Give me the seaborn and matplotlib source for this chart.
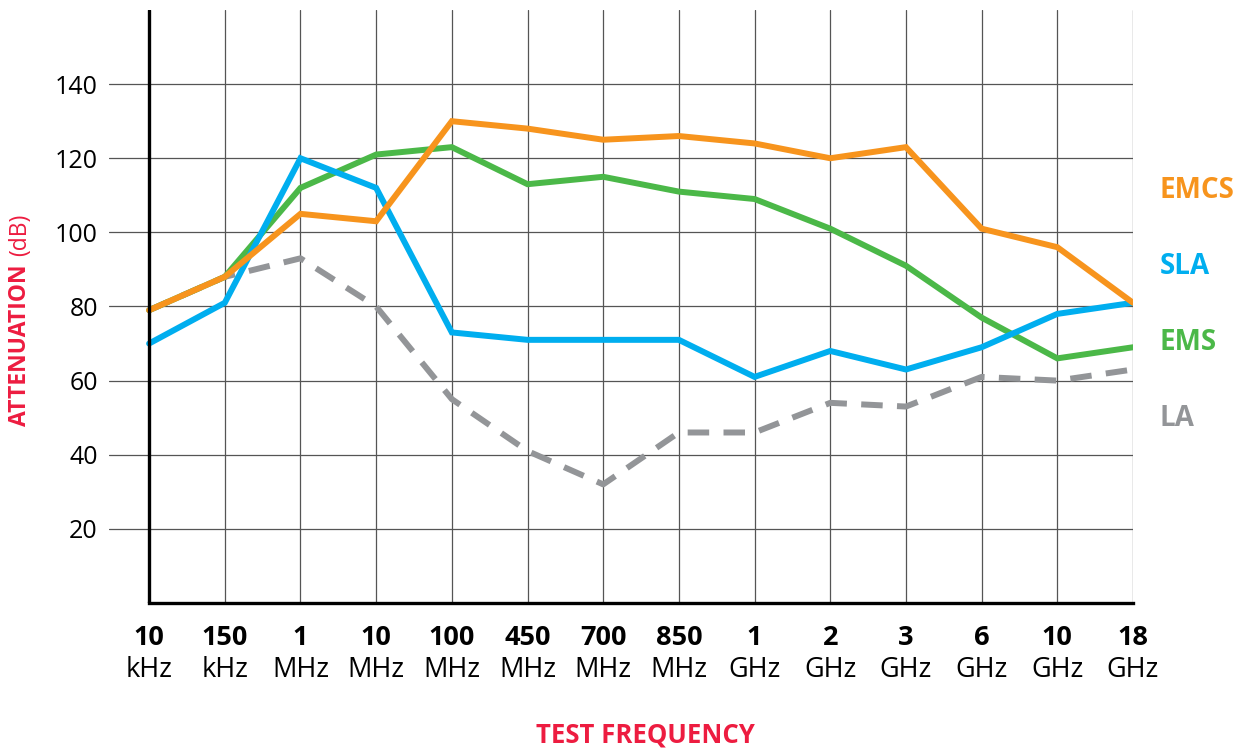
import pandas as pd
import seaborn as sns
import matplotlib.pyplot as plt
import matplotlib.transforms as mtransforms

# Chart data
freq_num = ["10", "150", "1", "10", "100", "450", "700", "850", "1", "2", "3", "6", "10", "18"]
freq_unit = ["kHz", "kHz", "MHz", "MHz", "MHz", "MHz", "MHz", "MHz", "GHz", "GHz", "GHz", "GHz", "GHz", "GHz"]

emcs = [79, 88, 105, 103, 130, 128, 125, 126, 124, 120, 123, 101, 96, 81]
sla = [70, 81, 120, 112, 73, 71, 71, 71, 61, 68, 63, 69, 78, 81]
ems = [79, 88, 112, 121, 123, 113, 115, 111, 109, 101, 91, 77, 66, 69]
la = [79, 88, 93, 80, 55, 41, 32, 46, 46, 54, 53, 61, 60, 63]

series = {"LA": la, "EMS": ems, "SLA": sla, "EMCS": emcs}
colors = {"EMCS": "#F7941D", "SLA": "#00AEEF", "EMS": "#4BB848", "LA": "#939598"}
red = "#ED1C40"

sns.set_style("white")
plt.rcParams['font.family'] = ['Open Sans', 'DejaVu Sans']
plt.rcParams['text.color'] = 'black'
plt.rcParams['xtick.color'] = 'black'
plt.rcParams['ytick.color'] = 'black'

fig = plt.figure(figsize=(12.54, 7.48), dpi=100)
ax = fig.add_axes([0.0869, 0.1939, 0.9035 - 0.0869, 0.9866 - 0.1939])

# grid
for y in range(20, 160, 20):
    ax.axhline(y, color="#555555", lw=0.9, zorder=1)
for i in range(len(freq_num)):
    ax.axvline(i, color="#555555", lw=0.9, zorder=1)

for name, vals in series.items():
    df = pd.DataFrame({"x": range(len(vals)), "y": vals})
    sns.lineplot(data=df, x="x", y="y", ax=ax, color=colors[name], linewidth=4.3,
                 zorder=3, solid_joinstyle="miter")
    if name == "LA":
        ax.lines[-1].set_dashes([3.6, 2.4])
        ax.lines[-1].set_dash_capstyle("butt")

ax.axvline(0, color="black", lw=2.4, zorder=4)
ax.set_xlim(-0.53, 13)
ax.set_ylim(0, 160)
for s in ["top", "right", "left"]:
    ax.spines[s].set_visible(False)
ax.spines["bottom"].set_bounds(0, 13)
ax.spines["bottom"].set_linewidth(2.4)
ax.spines["bottom"].set_color("black")
ax.spines["bottom"].set_zorder(4)

ax.set_yticks(range(20, 160, 20))
ax.tick_params(axis="y", length=0, pad=8, labelsize=18)
ax.set_xticks(range(len(freq_num)))
ax.set_xticklabels(freq_num, fontweight="bold", fontsize=19.5)
ax.tick_params(axis="x", length=0, pad=16)
ax.set_xlabel("")
ax.set_ylabel("")

trans = mtransforms.blended_transform_factory(ax.transData, fig.transFigure)
for i, u in enumerate(freq_unit):
    ax.text(i, 1 - 670 / 748, u, transform=trans, ha="center", va="center", fontsize=19.5)

# right-side series labels
label_y = {"EMCS": 190, "SLA": 266, "EMS": 343, "LA": 418}
for name, py in label_y.items():
    fig.text(1160 / 1254, 1 - py / 748, name, color=colors[name], fontsize=20,
             fontweight="bold", ha="left", va="center")

fig.text(645 / 1254, 1 - 735 / 748, "TEST FREQUENCY", color=red, fontsize=18.5,
         fontweight="bold", ha="center", va="center")
fig.text(20 / 1254, 1 - 426 / 748, "ATTENUATION", color=red, fontsize=16.5,
         fontweight="bold", rotation=90, ha="center", va="bottom")
fig.text(20 / 1254, 1 - 256 / 748, "(dB)", color=red, fontsize=16.5,
         rotation=90, ha="center", va="bottom")

fig.savefig("out.png", dpi=100)
